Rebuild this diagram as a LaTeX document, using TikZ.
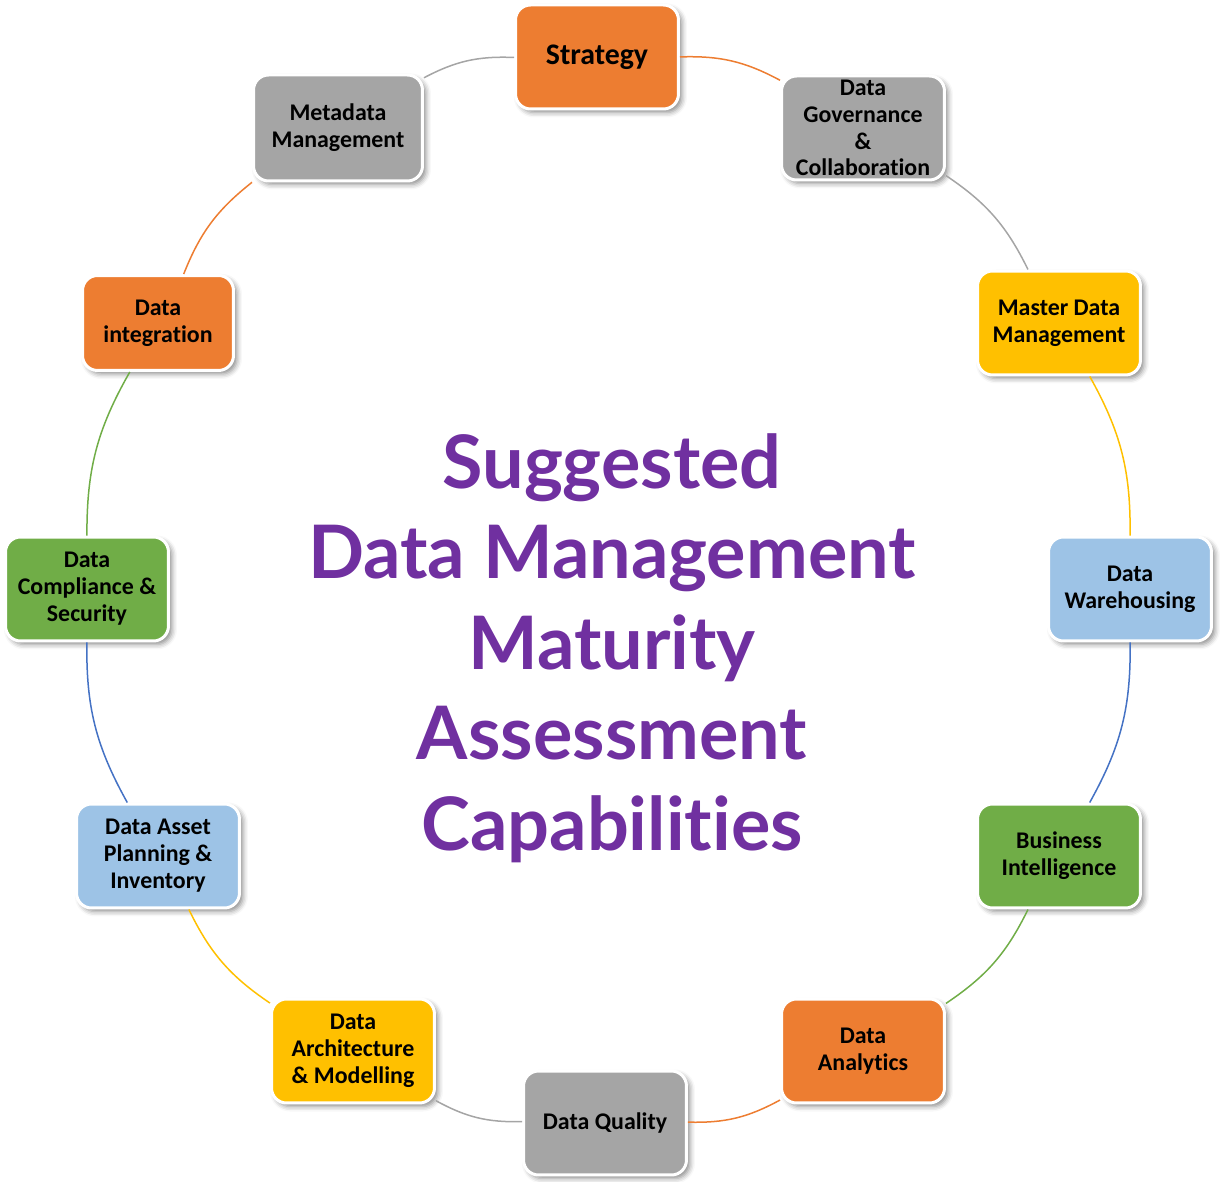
\documentclass[tikz,border=0pt]{standalone}
\usepackage{fontspec}
\setmainfont{Carlito}[Ligatures=NoCommon]
\newfontfamily\titlefont{Lato}[Ligatures=NoCommon]
\usetikzlibrary{shadows.blur}

\definecolor{capOrange}{HTML}{ED7D31}
\definecolor{capGray}{HTML}{A5A5A5}
\definecolor{capGold}{HTML}{FFC000}
\definecolor{capSky}{HTML}{9DC3E6}
\definecolor{capBlue}{HTML}{4472C4}
\definecolor{capGreen}{HTML}{70AD47}
\definecolor{capPurple}{HTML}{7030A0}

\tikzset{
  capbox/.style={rectangle, rounded corners=0.3cm, draw=white, line width=0.06cm,
    minimum width=3.26cm, minimum height=2.08cm, inner sep=2pt, align=center,
    font=\fontsize{13.6}{15.3}\selectfont\bfseries,
    blur shadow={shadow xshift=0.07cm, shadow yshift=-0.07cm,
      shadow blur radius=0.1cm, shadow opacity=45}},
  plainbox/.style={},
  bigbox/.style={font=\fontsize{17}{18}\selectfont\bfseries},
  widebox/.style={minimum width=3.38cm, minimum height=2.12cm},
  smallbox/.style={minimum width=3.02cm, minimum height=1.9cm},
  link/.style={line width=0.03cm},
}

\begin{document}
\begin{tikzpicture}[x=0.02cm, y=0.02cm]
\useasboundingbox (-606,-592) rectangle (617,590);

% capability boxes round the ring, clockwise from the top
\foreach \n/\x/\y/\col/\sty/\txt in {
    strat/-9/533/capOrange/bigbox/{Strategy},
    gov/257/462/capGray/plainbox/{Data\\Governance\\\&\\Collaboration},
    mdm/453/267/capGold/plainbox/{Master Data\\Management},
    dwh/524/1/capSky/plainbox/{Data\\Warehousing},
    bi/453/-266/capGreen/plainbox/{Business\\Intelligence},
    dana/257/-461/capOrange/plainbox/{Data\\Analytics},
    dq/-1/-533/capGray/plainbox/{Data Quality},
    darch/-253/-461/capGold/plainbox/{Data\\Architecture\\\& Modelling},
    dasset/-448/-266/capSky/plainbox/{Data Asset\\Planning \&\\Inventory},
    dcomp/-519/1/capGreen/plainbox/{Data\\Compliance \&\\Security},
    dint/-448/267/capOrange/smallbox/{Data\\integration},
    meta/-268/462/capGray/widebox/{Metadata\\Management}} {
  \node[capbox, \sty, fill=\col] (\n) at (\x,\y) {\txt};
}

% arcs between neighbours
\foreach \a/\b/\col in {strat/gov/capOrange, gov/mdm/capGray, mdm/dwh/capGold,
    dwh/bi/capBlue, bi/dana/capGreen, dana/dq/capOrange, dq/darch/capGray,
    darch/dasset/capGold, dasset/dcomp/capBlue, dcomp/dint/capGreen,
    dint/meta/capOrange, meta/strat/capGray} {
  \draw[link, draw=\col] (\a) to[bend left=15] (\b);
}

\node[font=\titlefont\fontsize{42}{51.5}\selectfont\bfseries, text=capPurple, align=center]
  (title) at (6,-58) {Suggested\\Data Management\\Maturity\\Assessment\\Capabilities};
\end{tikzpicture}
\end{document}
